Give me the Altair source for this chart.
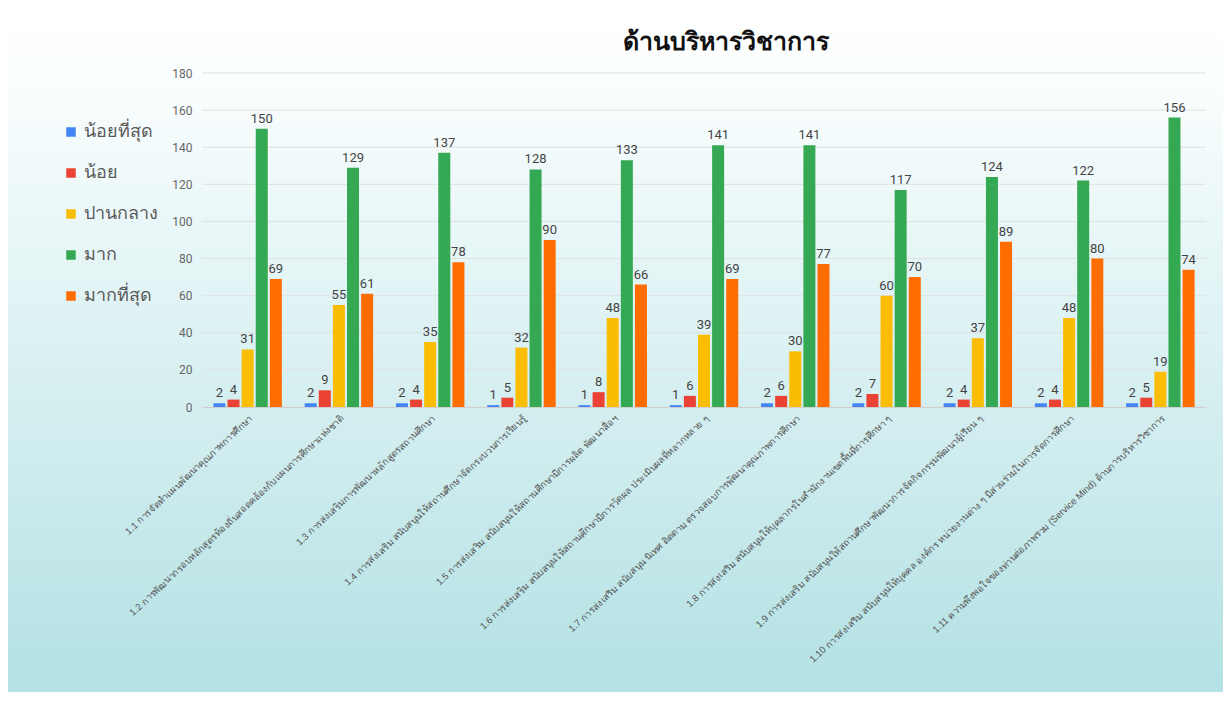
import altair as alt
import pandas as pd

categories = [
    "1.1 การจัดทำแผนพัฒนาคุณภาพการศึกษา",
    "1.2 การพัฒนากรอบหลักสูตรท้องถิ่นสอดคล้องกับแผนการศึกษาแห่งชาติ",
    "1.3 การส่งเสริมการพัฒนาหลักสูตรสถานศึกษา",
    "1.4 การส่งเสริม สนับสนุนให้สถานศึกษาจัดกระบวนการเรียนรู้",
    "1.5 การส่งเสริม สนับสนุนให้สถานศึกษามีการผลิต พัฒนาสื่อฯ",
    "1.6 การส่งเสริม สนับสนุนให้สถานศึกษามีการวัดผล ประเมินผลที่หลากหลาย ๆ",
    "1.7 การส่งเสริม สนับสนุน นิเทศ ติดตาม ตรวจสอบการพัฒนาคุณภาพการศึกษา",
    "1.8 การส่งเสริม สนับสนุนให้บุคลากรในสำนักงานเขตพื้นที่การศึกษา ๆ",
    "1.9 การส่งเสริม สนับสนุนให้สถานศึกษาพัฒนาการจัดกิจกรรมพัฒนาผู้เรียน ๆ",
    "1.10 การส่งเสริม สนับสนุนให้บุคคล องค์กร หน่วยงานต่าง ๆ มีส่วนร่วมในการจัดการศึกษา",
    "1.11 ความพึงพอใจของท่านต่อภาพรวม (Service Mind) ด้านการบริหารวิชาการ",
]
series = ["น้อยที่สุด", "น้อย", "ปานกลาง", "มาก", "มากที่สุด"]
colors = ["#4285F4", "#EA4335", "#FBBC04", "#34A853", "#FF6D01"]

least = [2, 2, 2, 1, 1, 1, 2, 2, 2, 2, 2]
little = [4, 9, 4, 5, 8, 6, 6, 7, 4, 4, 5]
medium = [31, 55, 35, 32, 48, 39, 30, 60, 37, 48, 19]
much = [150, 129, 137, 128, 133, 141, 141, 117, 124, 122, 156]
most = [69, 61, 78, 90, 66, 69, 77, 70, 89, 80, 74]

y_ticks = [0, 20, 40, 60, 80, 100, 120, 140, 160, 180]

rows = []
for s, vals in zip(series, [least, little, medium, much, most]):
    for c, v in zip(categories, vals):
        rows.append({"cat": c, "series": s, "value": v})
df = pd.DataFrame(rows)

W, H = 1004, 334
PL, PT, PR, PB = 194, 65, 17, 285

grad = alt.Gradient(
    gradient="linear",
    stops=[
        alt.GradientStop(color="#ffffff", offset=0),
        alt.GradientStop(color="#fbfefe", offset=0.1),
        alt.GradientStop(color="#b3e1e4", offset=1),
    ],
    x1=0, x2=0, y1=0, y2=1,
)

yscale = alt.Scale(domain=[0, 180])
yaxis = alt.Axis(title=None, values=y_ticks, labelFontSize=12, grid=False,
                 labelOverlap=False, labelColor="#666666", ticks=False, domain=False,
                 labelPadding=10, labelFont="Roboto", zindex=1)

bg = alt.Chart(pd.DataFrame({"a": [0]})).mark_rect(fill=grad).encode(
    x=alt.value(-PL), x2=alt.value(W + PR), y=alt.value(-PT), y2=alt.value(H + PB)
)

grid = alt.Chart(pd.DataFrame({"value": y_ticks})).mark_rule(color="#e0e0e0", strokeWidth=1).encode(
    y=alt.Y("value:Q", scale=yscale, axis=yaxis),
    x=alt.value(0), x2=alt.value(W),
)

xaxis = alt.Axis(title=None, labelAngle=-43, labelLimit=600, labelFontSize=9.5,
                 labelColor="#555555", ticks=False, domainColor="#cfcfcf",
                 labelPadding=6, zindex=1)
xscale = alt.Scale(paddingInner=0.25, paddingOuter=0.125)
xenc = alt.X("cat:N", sort=categories, scale=xscale, axis=xaxis)
xoff = alt.XOffset("series:N", sort=series, scale=alt.Scale(paddingInner=0.15))
yenc = alt.Y("value:Q", scale=yscale, axis=yaxis)

bars = alt.Chart(df).mark_bar().encode(
    x=xenc, xOffset=xoff, y=yenc,
    color=alt.Color(
        "series:N", sort=series,
        scale=alt.Scale(domain=series, range=colors),
        legend=alt.Legend(title=None, orient="none", legendX=-140, legendY=50,
                          symbolType="square", symbolSize=90, symbolStrokeWidth=0,
                          labelFontSize=18, labelColor="#5a5a5a", rowPadding=23,
                          labelLimit=300, labelOffset=4, zindex=1),
    ),
)

labels = alt.Chart(df).mark_text(dy=-10, fontSize=13, color="#444444", font="Roboto").encode(
    x=xenc, xOffset=xoff, y=yenc, text="value:Q",
)

chart = alt.layer(bg, grid, bars, labels).properties(
    width=W, height=H,
    padding={"left": PL, "top": PT, "right": PR, "bottom": PB},
    autosize=alt.AutoSizeParams(type="none"),
    title=alt.Title("ด้านบริหารวิชาการ", fontSize=25, fontWeight="bold", color="#111111",
                    anchor="middle", dx=22, offset=-47, zindex=1),
).configure_view(stroke=None).configure(background="#ffffff")

chart.save("out.html", embed_options={"renderer": "svg", "actions": False})
